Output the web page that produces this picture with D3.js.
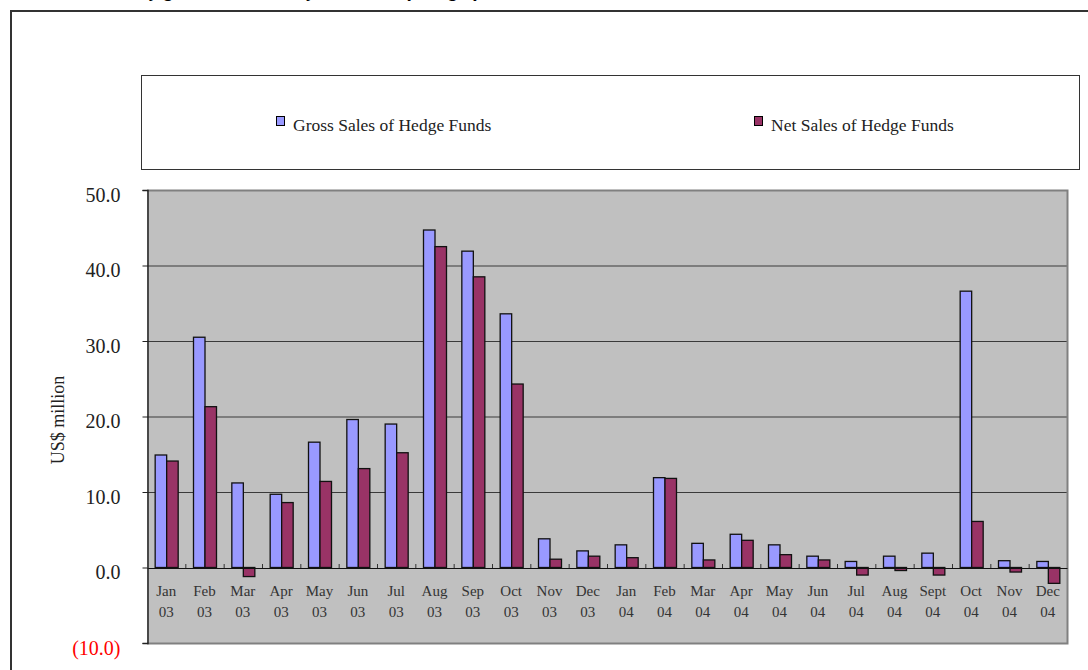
<!DOCTYPE html>
<html>
<head>
<meta charset="utf-8">
<script src="https://cdn.jsdelivr.net/npm/d3@7"></script>
<style>
  body { margin: 0; background: #fff; }
  svg { display: block; font-family: "Liberation Serif", "DejaVu Serif", serif; }
</style>
</head>
<body>
<svg id="chart" width="1088" height="670"></svg>
<script>
// data (US$ million)
var months = ["Jan","Feb","Mar","Apr","May","Jun","Jul","Aug","Sep","Oct","Nov","Dec",
              "Jan","Feb","Mar","Apr","May","Jun","Jul","Aug","Sept","Oct","Nov","Dec"];
var years = ["03","03","03","03","03","03","03","03","03","03","03","03",
             "04","04","04","04","04","04","04","04","04","04","04","04"];
var grossSales = [14.9, 30.5, 11.2, 9.7, 16.6, 19.6, 19.0, 44.7, 41.9, 33.6, 3.8, 2.2,
                  3.0, 11.9, 3.2, 4.4, 3.0, 1.5, 0.8, 1.5, 1.9, 36.6, 0.9, 0.8];
var netSales = [14.1, 21.3, -1.2, 8.6, 11.4, 13.1, 15.2, 42.5, 38.5, 24.3, 1.1, 1.5,
                1.3, 11.8, 1.0, 3.6, 1.7, 1.0, -1.0, -0.4, -1.0, 6.1, -0.6, -2.1];
var seriesNames = ["Gross Sales of Hedge Funds", "Net Sales of Hedge Funds"];
var yTicks = [-10, 0, 10, 20, 30, 40, 50];

var colors = ["#9999FF", "#993366"];
var svg = d3.select("#chart");

var margin = {left: 147, right: 1067, top: 190, bottom: 643};
var cats = months.map(function(m, i) { return i; });

var x = d3.scaleBand().domain(cats).range([margin.left, margin.right])
    .paddingInner(0.4).paddingOuter(0.2);
var x1 = d3.scaleBand().domain([0, 1]).range([0, x.bandwidth()]);
var y = d3.scaleLinear().domain([-10, 50]).range([margin.bottom, margin.top]);
var xEdge = d3.scaleLinear().domain([0, cats.length]).range([margin.left, margin.right]);

// title, mostly above the page edge as in the reference
svg.append("text")
    .attr("x", 90).attr("y", -4)
    .attr("font-family", "Liberation Serif, serif")
    .attr("font-size", 20).attr("font-weight", "bold").attr("font-style", "italic")
    .attr("fill", "#000")
    .text("Monthly gross and monthly net sales of hedge funds");

// outer frame
svg.append("path")
    .attr("d", "M11,700 L11,11 L1100,11")
    .attr("fill", "none").attr("stroke", "#333").attr("stroke-width", 2);

// legend box
svg.append("rect")
    .attr("x", 141.5).attr("y", 75.5).attr("width", 938).attr("height", 94)
    .attr("fill", "#fff").attr("stroke", "#333").attr("stroke-width", 1);

var legendX = [276, 754];
var legend = svg.selectAll(".legend").data(seriesNames).enter().append("g")
    .attr("class", "legend")
    .attr("transform", function(d, i) { return "translate(" + legendX[i] + ",116)"; });
legend.append("rect")
    .attr("x", 0.5).attr("y", 0.5).attr("width", 8).attr("height", 9)
    .attr("fill", function(d, i) { return colors[i]; })
    .attr("stroke", "#000").attr("stroke-width", 1);
legend.append("text")
    .attr("x", 17).attr("y", 15)
    .attr("font-family", "Liberation Serif, serif")
    .attr("font-size", 17.5).attr("fill", "#222")
    .text(function(d) { return d; });

// plot background
svg.append("rect")
    .attr("x", margin.left).attr("y", margin.top)
    .attr("width", margin.right - margin.left).attr("height", margin.bottom - margin.top)
    .attr("fill", "#C0C0C0");

// gridlines
svg.append("g")
    .attr("transform", "translate(" + margin.left + ",0)")
    .call(d3.axisLeft(y).tickValues([10, 20, 30, 40]).tickSize(-(margin.right - margin.left)).tickFormat(""))
    .call(function(g) {
        g.select(".domain").remove();
        g.selectAll("line").attr("stroke", "#3a3a3a").attr("stroke-width", 1);
    });

// plot border (top, right, bottom)
svg.append("path")
    .attr("d", "M" + margin.left + "," + (margin.top + 0.5) + " L" + (margin.right + 0.5) + "," + (margin.top + 0.5) +
               " L" + (margin.right + 0.5) + "," + (margin.bottom + 0.5) + " L" + margin.left + "," + (margin.bottom + 0.5))
    .attr("fill", "none").attr("stroke", "#808080").attr("stroke-width", 2);

// bars
var groups = svg.selectAll(".cat").data(cats).enter().append("g")
    .attr("class", "cat")
    .attr("transform", function(i) { return "translate(" + x(i) + ",0)"; });

[grossSales, netSales].forEach(function(values, s) {
    groups.append("rect")
        .attr("x", x1(s) + 0.5)
        .attr("y", function(i) { return y(Math.max(0, values[i])); })
        .attr("width", x1.bandwidth())
        .attr("height", function(i) { return Math.abs(y(values[i]) - y(0)); })
        .attr("fill", colors[s])
        .attr("stroke", "#111").attr("stroke-width", 1.3);
});

// x axis line with category edge ticks
svg.append("g")
    .attr("transform", "translate(0," + (y(0) + 0.5) + ")")
    .call(d3.axisBottom(xEdge).tickValues(d3.range(1, cats.length)).tickSizeInner(-4).tickSizeOuter(0).tickFormat(""))
    .call(function(g) {
        g.select(".domain").attr("stroke", "#111").attr("stroke-width", 1.2);
        g.selectAll(".tick line").attr("stroke", "#333");
    });

// category labels
var labels = svg.selectAll(".xlabel").data(cats).enter().append("text")
    .attr("class", "xlabel")
    .attr("text-anchor", "middle")
    .attr("font-family", "Liberation Serif, serif")
    .attr("font-size", 15).attr("fill", "#333")
    .attr("transform", function(i) { return "translate(" + (x(i) + x.bandwidth() / 2) + ",0)"; });
labels.append("tspan").attr("x", 0).attr("y", 596).text(function(i) { return months[i]; });
labels.append("tspan").attr("x", 0).attr("y", 617).text(function(i) { return years[i]; });

// y axis
svg.append("g")
    .attr("transform", "translate(" + (margin.left + 0.5) + ",0)")
    .call(d3.axisLeft(y).tickValues(yTicks).tickSize(5).tickPadding(22)
        .tickFormat(function(d) { return d < 0 ? "(" + d3.format(".1f")(-d) + ")" : d3.format(".1f")(d); }))
    .call(function(g) {
        g.select(".domain").attr("stroke", "#222").attr("stroke-width", 1.5);
        g.selectAll(".tick line").attr("stroke", "#222");
        g.selectAll(".tick text")
            .attr("font-family", "Liberation Serif, serif")
            .attr("font-size", 20)
            .attr("dy", "0.55em")
            .attr("fill", function(d) { return d < 0 ? "#FF0000" : "#222"; });
    });

// y axis title
svg.append("text")
    .attr("transform", "translate(64,420) rotate(-90)")
    .attr("text-anchor", "middle")
    .attr("font-family", "Liberation Serif, serif")
    .attr("font-size", 18).attr("fill", "#222")
    .text("US$ million");
</script>
</body>
</html>
